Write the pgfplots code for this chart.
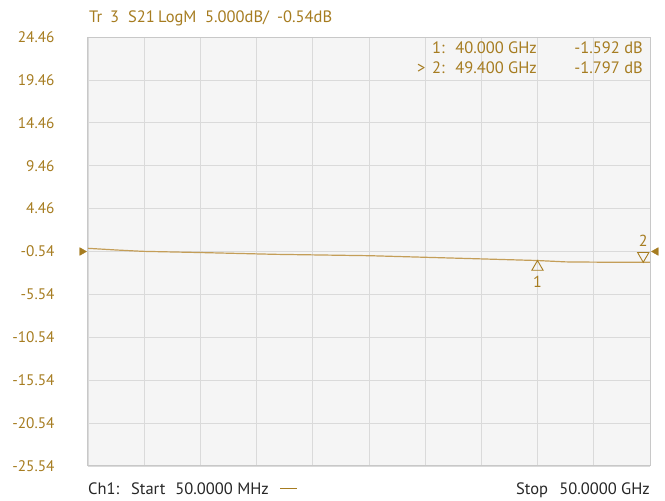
\documentclass[border=0pt]{standalone}
\usepackage{pgfplots}
\pgfplotsset{compat=1.18}
\usepackage{fontspec}
\setmainfont{PT Sans}
\definecolor{gold}{RGB}{166,124,32}
\definecolor{trace}{RGB}{196,158,88}
\definecolor{plotbg}{RGB}{245,245,245}
\definecolor{gridc}{RGB}{218,218,218}
\definecolor{framec}{RGB}{200,200,200}
\begin{document}
\begin{tikzpicture}[x=1pt,y=1pt]
\path[use as bounding box] (-88,-35) rectangle (577,466);
\begin{axis}[
  at={(0,0)}, anchor=south west,
  scale only axis, width=562pt, height=429pt,
  xmin=0.05, xmax=50, ymin=-25.54, ymax=24.46,
  xtick={0.05,5.045,10.04,15.035,20.03,25.025,30.02,35.015,40.01,45.005,50},
  xticklabels={},
  ytick={-25.54,-20.54,-15.54,-10.54,-5.54,-0.54,4.46,9.46,14.46,19.46,24.46},
  yticklabels={-25.54,-20.54,-15.54,-10.54,-5.54,-0.54,4.46,9.46,14.46,19.46,24.46},
  grid=major,
  major grid style={gridc, line width=0.8pt},
  axis background/.style={fill=plotbg},
  axis line style={framec, line width=1pt},
  major tick length=0pt,
  tick style={draw=none},
  /pgf/number format/assume math mode=true,
  yticklabel style={font=\fontsize{15.3}{17}\selectfont, text=gold, anchor=east, xshift=-30pt},
  clip=false,
]
\addplot[trace, line width=1.2pt] coordinates {
 (0.05,-0.17) (2.5,-0.36) (4.9,-0.52) (10,-0.66) (16.7,-0.87) (25.1,-1.03)
 (33.1,-1.33) (40,-1.592) (42.5,-1.75) (45,-1.78) (49.4,-1.797) (50,-1.80)
};
% marker 1
\addplot[gold, only marks, mark=triangle, mark size=6.5pt, mark options={yshift=-6.5pt, line width=0.9pt, fill=plotbg}] coordinates {(40,-1.592)};
% marker 2
\addplot[gold, only marks, mark=triangle, mark size=6.5pt, mark options={yshift=6.5pt, rotate=180, line width=0.9pt, fill=plotbg}] coordinates {(49.4,-1.797)};
\node[text=gold, font=\fontsize{16}{17}\selectfont] at (axis cs:40,-1.592) [yshift=-21pt] {1};
\node[text=gold, font=\fontsize{16}{17}\selectfont] at (axis cs:49.4,-1.797) [yshift=21pt] {2};
% reference level arrows
\addplot[gold, only marks, mark=triangle*, mark size=4.5pt, mark options={xshift=-6pt, rotate=-90}] coordinates {(0.05,-0.54)};
\addplot[gold, only marks, mark=triangle*, mark size=4.5pt, mark options={xshift=6pt, rotate=90}] coordinates {(50,-0.54)};
\end{axis}
\begin{scope}[every node/.style={text=gold, font=\fontsize{16.5}{18}\selectfont, inner sep=0pt, anchor=base west}]
\node at (1,443) {Tr};
\node at (22,443) {3};
\node at (40,443) {S21};
\node at (70,443) {LogM};
\node at (117,443) {5.000dB/};
\node at (189,443) {-0.54dB};
\node at (344,412) {1:};
\node[anchor=base east] at (449,412) {40.000 GHz};
\node[anchor=base east] at (555,412) {-1.592 dB};
\node at (329,392) {>};
\node at (344,392) {2:};
\node[anchor=base east] at (449,392) {49.400 GHz};
\node[anchor=base east] at (555,392) {-1.797 dB};
\end{scope}
\begin{scope}[every node/.style={text=black!85, font=\fontsize{16.5}{18}\selectfont, inner sep=0pt, anchor=base west}]
\node at (0,-29) {Ch1:};
\node at (43,-29) {Start};
\node[anchor=base east] at (181,-29) {50.0000 MHz};
\node at (428,-29) {Stop};
\node[anchor=base east] at (562,-29) {50.0000 GHz};
\end{scope}
\draw[gold, line width=1pt] (192,-23) -- (209,-23);
\end{tikzpicture}
\end{document}
